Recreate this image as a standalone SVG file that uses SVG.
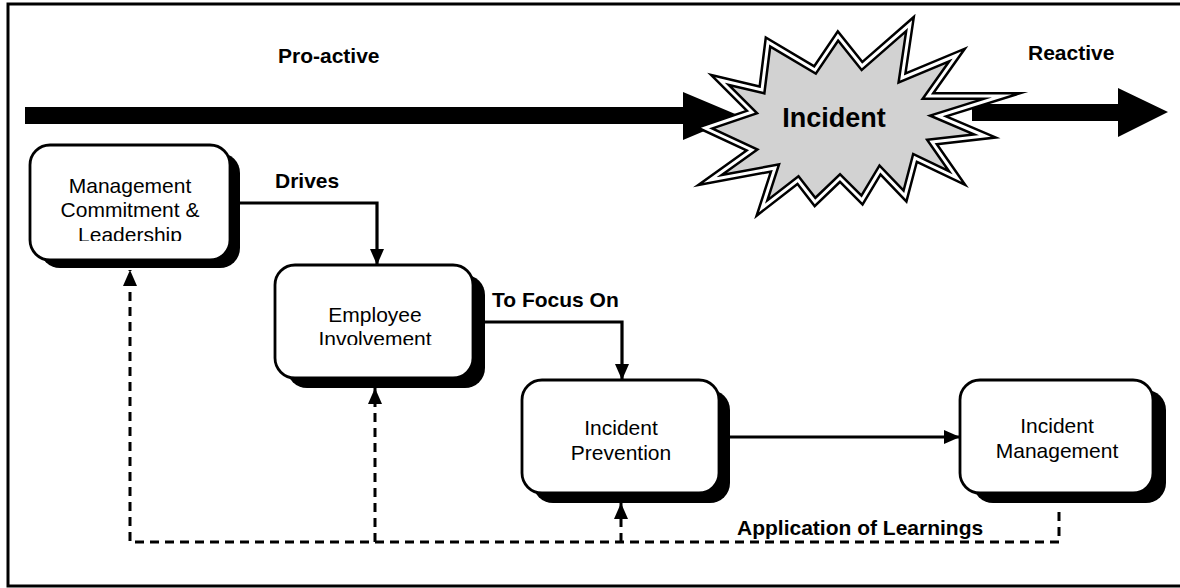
<svg xmlns="http://www.w3.org/2000/svg" width="1180" height="588" viewBox="0 0 1180 588">
<style>
.box{fill:#fff;stroke:#000;stroke-width:2.8}
.shadow{fill:#000}
.t{font-family:"Liberation Sans",Arial,sans-serif;font-size:21px;fill:#000;text-anchor:middle}
.lbl{font-family:"Liberation Sans",Arial,sans-serif;font-size:21px;font-weight:bold;fill:#000}
.solid{fill:none;stroke:#000;stroke-width:3.2}
.dash{fill:none;stroke:#000;stroke-width:3;stroke-dasharray:9 6}
</style>
<defs>
<marker id="arr" viewBox="0 0 16 14" refX="16" refY="7" markerWidth="16" markerHeight="14" markerUnits="userSpaceOnUse" orient="auto">
<path d="M0,0 L16,7 L0,14 z" fill="#000"/>
</marker>
<clipPath id="clip1"><rect x="30" y="145" width="200" height="96"/></clipPath>
<clipPath id="clip2"><rect x="275" y="265" width="198" height="80"/></clipPath>
</defs>
<rect x="8" y="4" width="1176" height="582" fill="#fff" stroke="#000" stroke-width="3"/>
<g id="timeline">
<polygon points="25,107 683,107 683,92 740,116 683,140 683,124 25,124" fill="#000"/>
<polygon points="972,104 1118,104 1118,88 1168,112 1118,137 1118,121 972,121" fill="#000"/>
<text class="lbl" x="278" y="63">Pro-active</text>
<text class="lbl" x="1028" y="60">Reactive</text>
</g>
<g id="incident">
<polygon points="720,80 762,90 768,42 815,70 838,36 862,66 910,24 902,78 957,55 928,96 1002,96 938,116 985,136 932,142 957,178 915,158 905,196 880,170 862,200 840,178 815,202 798,180 762,208 775,168 710,180 752,150 705,128 752,112" fill="#d2d2d2" stroke="#000" stroke-width="8" stroke-linejoin="miter" stroke-miterlimit="10"/>
<polygon points="720,80 762,90 768,42 815,70 838,36 862,66 910,24 902,78 957,55 928,96 1002,96 938,116 985,136 932,142 957,178 915,158 905,196 880,170 862,200 840,178 815,202 798,180 762,208 775,168 710,180 752,150 705,128 752,112" fill="none" stroke="#fff" stroke-width="3" stroke-linejoin="miter" stroke-miterlimit="10"/>
<text x="834" y="127" font-family="'Liberation Sans',Arial,sans-serif" font-size="27" font-weight="bold" text-anchor="middle">Incident</text>
</g>
<g id="connectors">
<path class="solid" d="M230,203 H377 V265" marker-end="url(#arr)"/>
<path class="solid" d="M473,322 H622 V380" marker-end="url(#arr)"/>
<path class="solid" d="M719,437 H960" marker-end="url(#arr)"/>
<path class="dash" d="M1059,512 V542 H130 V270" marker-end="url(#arr)"/>
<path class="dash" d="M375,542 V388" marker-end="url(#arr)"/>
<path class="dash" d="M621,542 V503" marker-end="url(#arr)"/>
<text class="lbl" x="275" y="188">Drives</text>
<text class="lbl" x="492" y="307">To Focus On</text>
<text class="lbl" x="737" y="535">Application of Learnings</text>
</g>
<g id="management">
<rect class="shadow" x="40" y="153" width="200" height="115" rx="20"/>
<rect class="box" x="30" y="145" width="200" height="115" rx="20"/>
<g clip-path="url(#clip1)">
<text class="t" x="130" y="193">Management</text>
<text class="t" x="130" y="217">Commitment &amp;</text>
<text class="t" x="130" y="242">Leadership</text>
</g>
</g>
<g id="employee">
<rect class="shadow" x="287" y="275" width="198" height="113" rx="20"/>
<rect class="box" x="275" y="265" width="198" height="113" rx="20"/>
<g clip-path="url(#clip2)">
<text class="t" x="375" y="322">Employee</text>
<text class="t" x="375" y="346">Involvement</text>
</g>
</g>
<g id="prevention">
<rect class="shadow" x="533" y="390" width="197" height="113" rx="20"/>
<rect class="box" x="522" y="380" width="197" height="113" rx="20"/>
<text class="t" x="621" y="435">Incident</text>
<text class="t" x="621" y="460">Prevention</text>
</g>
<g id="incident-management">
<rect class="shadow" x="973" y="390" width="193" height="113" rx="20"/>
<rect class="box" x="960" y="380" width="193" height="113" rx="20"/>
<text class="t" x="1057" y="433">Incident</text>
<text class="t" x="1057" y="458">Management</text>
</g>
</svg>
